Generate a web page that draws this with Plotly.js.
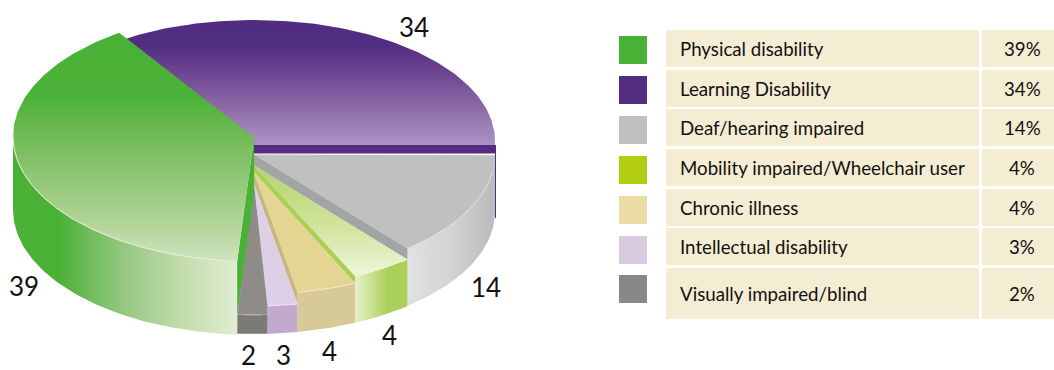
<!DOCTYPE html>
<html><head><meta charset="utf-8">
<script src="https://cdn.plot.ly/plotly-3.0.1.min.js"></script>
<style>html,body{margin:0;padding:0;background:#fff;overflow:hidden}#chart{width:1054px;height:370px}</style>
</head><body><div id="chart"></div>
<script>
// ---- data ----
const categories = ["Physical disability","Learning Disability","Deaf/hearing impaired","Mobility impaired/Wheelchair user","Chronic illness","Intellectual disability","Visually impaired/blind"];
const values = [39,34,14,4,4,3,2];
const swatchColors = ["#4ab137","#522d82","#bfc0c2","#b2cd12","#ebdca3","#d9cadf","#888888"];
// shares as the slices are actually drawn in the artwork (clockwise from Learning Disability)
const drawnLearning = 34, drawnDeaf = 13.9, drawnMobility = 4.1, drawnChronic = 4, drawnIntellectual = 2, drawnVisual = 2, drawnPhysical = 40;

// ---- geometry of the artwork ----
const W = 1054, H = 370, FONT = 'Lato,"Open Sans",sans-serif';
const CX = 254, RX = 241, RY = 122, BOTTOM = 212, START = -32;
const deg = s => s * 3.6;
const a0 = START, a1 = a0 + deg(drawnLearning), a2 = a1 + deg(drawnDeaf), a3 = a2 + deg(drawnMobility),
      a4 = a3 + deg(drawnChronic), a5 = a4 + deg(drawnIntellectual), a6 = a5 + deg(drawnVisual), a7 = a6 + deg(drawnPhysical);
function pt(a, cy, ry = RY, rx = RX) { const r = a * Math.PI / 180; return [CX + rx * Math.sin(r), cy - ry * Math.cos(r)]; }
function arc(from, to, cy, ry = RY, rx = RX) { const n = Math.max(2, Math.ceil(Math.abs(to - from))), p = []; for (let i = 0; i <= n; i++) p.push(pt(from + (to - from) * i / n, cy, ry, rx)); return p; }
const traces = [];
function poly(points, fill) {
  const t = { type: 'scatter', mode: 'lines', x: points.map(p => p[0]).concat(points[0][0]), y: points.map(p => p[1]).concat(points[0][1]),
    fill: 'toself', line: { width: 0 }, hoverinfo: 'skip', showlegend: false };
  if (typeof fill === 'string') { t.fillcolor = fill; }
  else { t.fillgradient = { type: fill.type, start: fill.start, stop: fill.stop, colorscale: fill.stops }; }
  traces.push(t);
}
function stroke(points, color, width) {
  traces.push({ type: 'scatter', mode: 'lines', x: points.map(p => p[0]), y: points.map(p => p[1]), line: { color, width }, hoverinfo: 'skip', showlegend: false });
}
// heights of the stepped slices
const cPurple = 141, cGrey = 154.5, cLime = 165.5, cTan = 172.5, cLilac = 184, cDark = 193, cGreen = 136.5, ryGreen = 125, cGreenBase = 210;
const apex = c => [CX, c];

// purple top and its cut face
poly([apex(145)].concat(arc(a0 - 4, a1 - 0.6, cPurple, 121)).concat([[495, 145]]), { type: 'vertical', start: 21, stop: 145,
  stops: [[0, '#512c81'], [0.2, '#522e83'], [0.4, '#6b4390'], [0.7, '#8d6ba8'], [1, '#ac94c4']] });
poly([[CX, 145], [496, 145], [496, 153.5], [CX, 153.5]], '#522d82');
stroke([[495.5, 153], [495.5, 218]], '#522d82', 1);
// grey
poly(arc(a1, a2, cGrey).concat(arc(a2, a1, BOTTOM)), { type: 'horizontal', start: 409, stop: 490, stops: [[0, '#e0e1e0'], [0.5, '#d3d5d4'], [1, '#bcbebe']] });
poly([apex(cGrey)].concat(arc(a1, a2, cGrey)), '#bfc0c2');
stroke(arc(a1 + 8, a2, cGrey), '#dfe0e0', 1);
poly([apex(cGrey), pt(a2, cGrey), pt(a2, cLime), apex(cLime)], '#a3a5a5');
// lime
poly(arc(a2, a3, cLime).concat(arc(a3, a2, BOTTOM)), { type: 'horizontal', start: 356, stop: 409, stops: [[0, '#e6efc8'], [0.6, '#abd05a'], [1, '#abd05a']] });
poly([apex(cLime)].concat(arc(a2, a3, cLime)), { type: 'vertical', start: 170, stop: 276, stops: [[0, '#b4d56f'], [0.5, '#cfe39a'], [1, '#eef6da']] });
poly([apex(cLime), pt(a3, cLime), pt(a3, cTan), apex(cTan)], '#a9cf55');
// tan
poly(arc(a3, a4, cTan).concat(arc(a4, a3, BOTTOM)), '#d7c998');
poly([apex(cTan)].concat(arc(a3, a4, cTan)), '#e5d593');
stroke(arc(a3, a4, cTan), '#f3ecc9', 1);
poly([apex(cTan), pt(a4, cTan), pt(a4, cLilac), apex(cLilac)], '#c8b67e');
// lilac
poly(arc(a4, a5, cLilac).concat(arc(a5, a4, BOTTOM)), '#c4a9cf');
poly([apex(cLilac)].concat(arc(a4, a5, cLilac)), '#ddd0e6');
stroke(arc(a4, a5, cLilac), '#efe8f2', 1);
// dark grey
poly(arc(a5, a6, cDark).concat(arc(a6, a5, BOTTOM)), '#7b7a75');
poly([apex(cLilac), pt(a5, cLilac), pt(a5, cDark)].concat(arc(a5, a6, cDark)), '#8f8c87');
stroke(arc(a5 + 1.5, a6 - 1.5, cDark), '#b9b8b2', 1);
// green
poly(arc(a6, 270, cGreen, ryGreen).concat(arc(270, a6, cGreenBase, ryGreen)), { type: 'horizontal', start: 14, stop: 238,
  stops: [[0, '#4ab137'], [0.2, '#4ab137'], [0.3, '#66b951'], [0.5, '#97c983'], [0.75, '#c3dcac'], [1, '#e0edd3']] });
poly([apex(cGreen + 1), pt(a6, cGreen, ryGreen), [pt(a6, cGreen, ryGreen)[0], pt(a6, cDark)[1]], apex(cDark)], '#4ab137');
poly([apex(cGreen + 1)].concat(arc(a6, a7 - 2, cGreen, ryGreen)), { type: 'vertical', start: 35, stop: 262,
  stops: [[0, '#4ab137'], [0.27, '#4bb138'], [0.42, '#6cba52'], [0.65, '#93c878'], [0.85, '#b5d69c'], [1, '#cfe4bf']] });
stroke(arc(a6 + 4, 272, cGreen, ryGreen), '#e6f0dc', 1);

// ---- table and legend ----
const cellLeft = 666, cellMid = 979, pctLeft = 982, pctRight = 1054;
const rowTops = [30, 70, 109, 149, 189, 228, 268], rowBottoms = [67, 107, 146, 186, 226, 265, 319];
const swatchTops = [36, 76, 116, 156, 196, 236, 275];
const shapes = [], annotations = [];
const note = (x, y, text, size, anchor) => annotations.push({ x, y, text, xref: 'x', yref: 'y', showarrow: false, xanchor: anchor, yanchor: 'middle', borderpad: 0,
  font: { family: FONT, size, color: '#111111' } });
categories.forEach((c, i) => {
  const rect = (x0, x1, y0, y1, col) => shapes.push({ type: 'rect', xref: 'x', yref: 'y', x0, x1, y0, y1, fillcolor: col, line: { width: 0 }, layer: 'below' });
  rect(cellLeft, cellMid, rowTops[i], rowBottoms[i], '#f5edd3');
  rect(pctLeft, pctRight, rowTops[i], rowBottoms[i], '#f5edd3');
  rect(619, 647, swatchTops[i], swatchTops[i] + 28, swatchColors[i]);
  const mid = (rowTops[i] + rowBottoms[i]) / 2;
  note(679, mid + 0.5, c, 18.7, 'left');
  note(1022, mid + 0.5, values[i] + '%', 18.7, 'center');
});
// ---- value labels round the pie ----
const labelX = [24, 414, 486, 389, 329, 283, 248], labelY = [286, 27, 287, 335, 351, 355, 355];
values.forEach((v, i) => note(labelX[i], labelY[i], String(v), 26, 'center'));

Plotly.newPlot('chart', traces, {
  width: W, height: H, margin: { l: 0, r: 0, t: 0, b: 0 }, paper_bgcolor: '#fff', plot_bgcolor: '#fff', showlegend: false,
  xaxis: { range: [0, W], visible: false, fixedrange: true },
  yaxis: { range: [H, 0], visible: false, fixedrange: true },
  shapes, annotations
}, { displayModeBar: false, staticPlot: true });
</script></body></html>
